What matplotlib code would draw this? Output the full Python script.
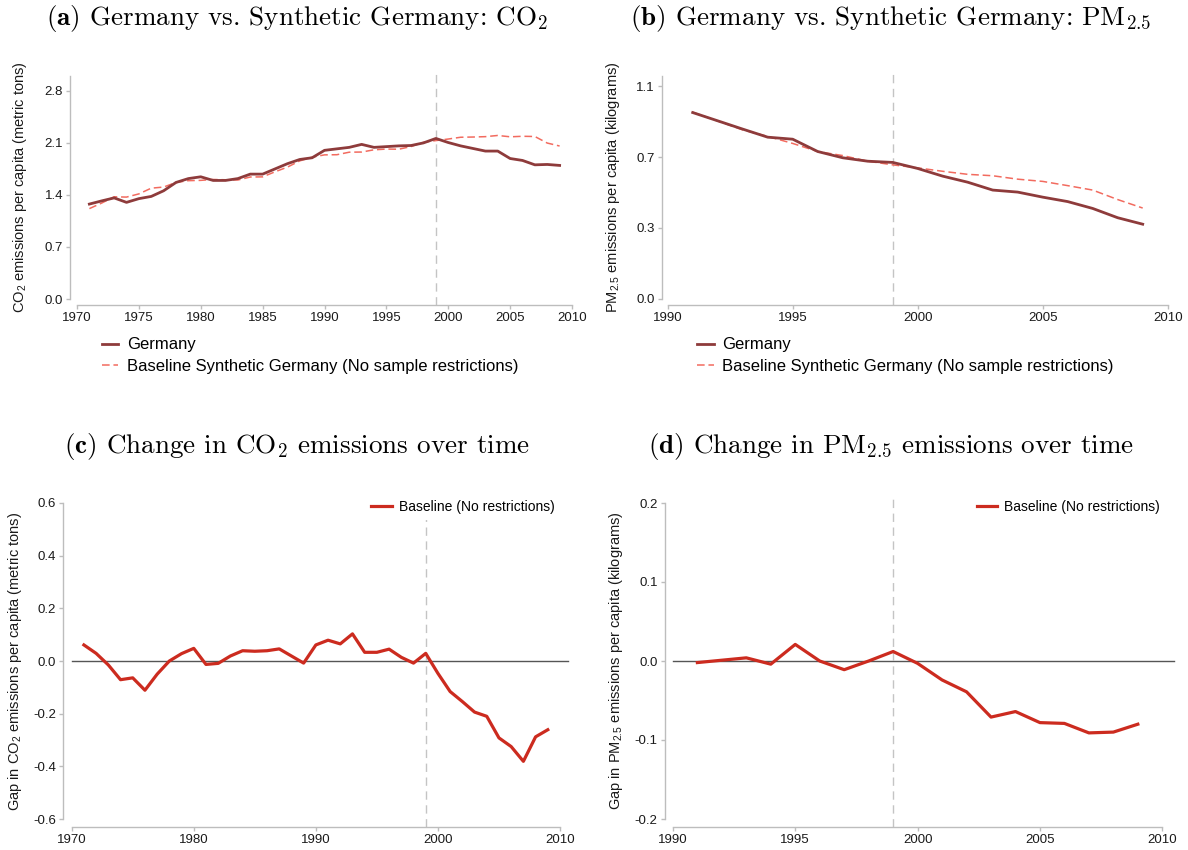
import matplotlib
matplotlib.use("Agg")
import matplotlib.pyplot as plt

plt.rcParams["font.family"] = ["Liberation Sans", "DejaVu Sans"]
plt.rcParams["mathtext.fontset"] = "custom"
plt.rcParams["mathtext.rm"] = "Liberation Sans"
plt.rcParams["mathtext.it"] = "Liberation Sans:italic"
plt.rcParams["mathtext.bf"] = "Liberation Sans:bold"

# ---------------------------------------------------------------- data
years_co2 = list(range(1971, 2010))
germany_co2 = [1.277, 1.32, 1.36, 1.30, 1.35, 1.38, 1.456, 1.568, 1.62, 1.644,
               1.595, 1.595, 1.62, 1.68, 1.68, 1.75, 1.82, 1.877, 1.90, 2.0,
               2.02, 2.04, 2.08, 2.04, 2.05, 2.06, 2.065, 2.10, 2.16, 2.105,
               2.06, 2.025, 1.99, 1.99, 1.89, 1.864, 1.805, 1.81, 1.797]
synth_co2 = [1.216, 1.291, 1.375, 1.371, 1.414, 1.491, 1.506, 1.568, 1.592, 1.596,
             1.608, 1.604, 1.601, 1.641, 1.643, 1.711, 1.774, 1.858, 1.908, 1.939,
             1.941, 1.975, 1.977, 2.007, 2.017, 2.015, 2.051, 2.108, 2.131, 2.152,
             2.176, 2.179, 2.184, 2.20, 2.182, 2.189, 2.186, 2.098, 2.058]
gap_co2 = [0.061, 0.029, -0.015, -0.071, -0.064, -0.111, -0.05, 0.0, 0.028, 0.048,
           -0.013, -0.009, 0.019, 0.039, 0.037, 0.039, 0.046, 0.019, -0.008, 0.061,
           0.079, 0.065, 0.103, 0.033, 0.033, 0.045, 0.014, -0.008, 0.029, -0.047,
           -0.116, -0.154, -0.194, -0.21, -0.292, -0.325, -0.381, -0.288, -0.261]

years_pm = list(range(1991, 2010))
germany_pm = [0.921, 0.880, 0.839, 0.799, 0.789, 0.728, 0.697, 0.680, 0.674, 0.644,
              0.606, 0.576, 0.537, 0.527, 0.502, 0.480, 0.446, 0.400, 0.368]
synth_pm = [0.923, 0.879, 0.835, 0.803, 0.768, 0.728, 0.708, 0.680, 0.662, 0.647,
            0.630, 0.615, 0.608, 0.591, 0.580, 0.559, 0.537, 0.490, 0.448]
gap_pm = [-0.002, 0.001, 0.004, -0.004, 0.021, 0.0, -0.011, 0.0, 0.012, -0.003,
          -0.024, -0.039, -0.071, -0.064, -0.078, -0.079, -0.091, -0.090, -0.080]

treat_year = 1999

co2_yticks = [0.0, 0.7, 1.4, 2.1, 2.8]
co2_ylabels = ["0.0", "0.7", "1.4", "2.1", "2.8"]
pm_yticks = [0.0, 0.35, 0.70, 1.05]
pm_ylabels = ["0.0", "0.3", "0.7", "1.1"]
gap_co2_yticks = [-0.6, -0.4, -0.2, 0.0, 0.2, 0.4, 0.6]
gap_co2_ylabels = ["-0.6", "-0.4", "-0.2", "0.0", "0.2", "0.4", "0.6"]
gap_pm_yticks = [-0.2, -0.1, 0.0, 0.1, 0.2]
gap_pm_ylabels = ["-0.2", "-0.1", "0.0", "0.1", "0.2"]

####################################################################

W, H = 1188, 850
fig = plt.figure(figsize=(W / 100, H / 100), dpi=100)

C_GER = "#8e3b3b"
C_SYN = "#f26b5f"
C_GAP = "#cc2b1f"
C_SPINE = "#bdbdbd"
C_VLINE = "#c4c4c4"


def add_ax(x0, x1, y_top, y_bot):
    return fig.add_axes([x0 / W, 1 - y_bot / H, (x1 - x0) / W, (y_bot - y_top) / H])


def style(ax, xlim, ylim, xticks, yticks, ylabels, left_out, bottom_out, ylabel):
    ax.set_xlim(*xlim)
    ax.set_ylim(*ylim)
    for s in ["top", "right"]:
        ax.spines[s].set_visible(False)
    ax.spines["left"].set_position(("outward", left_out * 0.72))
    ax.spines["bottom"].set_position(("outward", bottom_out * 0.72))
    ax.spines["left"].set_bounds(ylim[0], ylim[1])
    ax.spines["bottom"].set_bounds(xlim[0], xlim[1])
    for s in ["left", "bottom"]:
        ax.spines[s].set_color(C_SPINE)
        ax.spines[s].set_linewidth(1.0)
    ax.set_xticks(xticks)
    ax.set_xticklabels([str(t) for t in xticks])
    ax.set_yticks(yticks)
    ax.set_yticklabels(ylabels)
    ax.tick_params(length=3, width=1, color=C_SPINE, labelsize=9.5,
                   labelcolor="#1a1a1a", pad=2)
    ax.set_ylabel(ylabel, fontsize=10.5, color="#1a1a1a")
    ax.patch.set_visible(False)
    return ax


def vline(ax, ymin, ymax):
    ax.axvline(treat_year, ymin=ymin, ymax=ymax, color=C_VLINE, lw=1.0,
               ls=(0, (6, 4)), clip_on=False, zorder=1)


def title(x, y, text):
    fig.text(x / W, 1 - y / H, text, ha="center", va="center", fontsize=19.5,
             family="cmr10", math_fontfamily="cm")


def level_legend(ax, x, y):
    h, l = ax.get_legend_handles_labels()
    ax.legend(h[::-1], l[::-1], loc="center left", bbox_to_anchor=(x, y),
              frameon=False, fontsize=12, handlelength=1.0, handletextpad=0.5,
              labelspacing=0.38, borderpad=0, borderaxespad=0)


def gap_legend(ax, x, y, hl):
    leg = ax.legend(loc="center right", bbox_to_anchor=(x, y), frameon=True,
                    fontsize=10, handlelength=hl, handletextpad=0.55, borderpad=0.45,
                    borderaxespad=0, fancybox=False)
    leg.get_frame().set_facecolor("white")
    leg.get_frame().set_edgecolor("none")
    leg.get_frame().set_alpha(1)
    leg.set_zorder(5)


# (a) CO2 levels
ax_a = add_ax(77, 572, 76, 299)
style(ax_a, (1970, 2010), (0, 3.0), list(range(1970, 2011, 5)), co2_yticks, co2_ylabels,
      7, 6, "CO$_2$ emissions per capita (metric tons)")
ax_a.yaxis.set_label_coords((29 - 77) / 495, 0.5)
vline(ax_a, -0.027, 1.027)
ax_a.plot(years_co2, synth_co2, color=C_SYN, lw=1.1, ls=(0, (5, 2.5)), zorder=2,
          label="Baseline Synthetic Germany (No sample restrictions)")
ax_a.plot(years_co2, germany_co2, color=C_GER, lw=2.0, zorder=3, label="Germany")
level_legend(ax_a, (101.7 - 77) / 495, (299 - 355.5) / 223)

# (b) PM2.5 levels
ax_b = add_ax(667.7, 1167.7, 76, 298.5)
style(ax_b, (1990, 2010), (0, 1.102), list(range(1990, 2011, 5)), pm_yticks, pm_ylabels,
      6, 6.5, "PM$_{2.5}$ emissions per capita (kilograms)")
ax_b.yaxis.set_label_coords((622 - 667.7) / 500, 0.5)
vline(ax_b, -0.029, 1.027)
ax_b.plot(years_pm, synth_pm, color=C_SYN, lw=1.1, ls=(0, (5, 2.5)), zorder=2,
          label="Baseline Synthetic Germany (No sample restrictions)")
ax_b.plot(years_pm, germany_pm, color=C_GER, lw=2.0, zorder=3, label="Germany")
level_legend(ax_b, (697 - 667.7) / 500, (298.5 - 355.5) / 222.5)

# (c) CO2 gap
ax_c = add_ax(71.7, 560, 503, 819)
style(ax_c, (1970, 2010), (-0.6, 0.6), list(range(1970, 2011, 10)), gap_co2_yticks,
      gap_co2_ylabels, 8.4, 7.7, "Gap in CO$_2$ emissions per capita (metric tons)")
ax_c.yaxis.set_label_coords((24 - 71.7) / 488.3, 0.5)
ax_c.axhline(0, xmin=0, xmax=1.017, color="#555555", lw=1.0, clip_on=False, zorder=1)
vline(ax_c, -0.024, 1.015)
ax_c.plot(years_co2, gap_co2, color=C_GAP, lw=2.3, zorder=3, label="Baseline (No restrictions)")
gap_legend(ax_c, 1.003, 0.987, 1.5)

# (d) PM2.5 gap
ax_d = add_ax(672.9, 1162.3, 503, 819)
style(ax_d, (1990, 2010), (-0.2, 0.2), list(range(1990, 2011, 5)), gap_pm_yticks,
      gap_pm_ylabels, 8.3, 7.7, "Gap in PM$_{2.5}$ emissions per capita (kilograms)")
ax_d.yaxis.set_label_coords((625 - 672.9) / 489.4, 0.5)
ax_d.axhline(0, xmin=0, xmax=1.023, color="#555555", lw=1.0, clip_on=False, zorder=1)
vline(ax_d, -0.024, 1.015)
ax_d.plot(years_pm, gap_pm, color=C_GAP, lw=2.3, zorder=3, label="Baseline (No restrictions)")
gap_legend(ax_d, 1.008, 0.988, 1.4)

# panel captions
title(297, 19, r"$\mathbf{(a)}$ Germany vs. Synthetic Germany: $\mathrm{CO}_2$")
title(891, 19, r"$\mathbf{(b)}$ Germany vs. Synthetic Germany: $\mathrm{PM}_{2.5}$")
title(297, 447, r"$\mathbf{(c)}$ Change in $\mathrm{CO}_2$ emissions over time")
title(891, 447, r"$\mathbf{(d)}$ Change in $\mathrm{PM}_{2.5}$ emissions over time")

fig.savefig("out.png", dpi=100, facecolor="white")
